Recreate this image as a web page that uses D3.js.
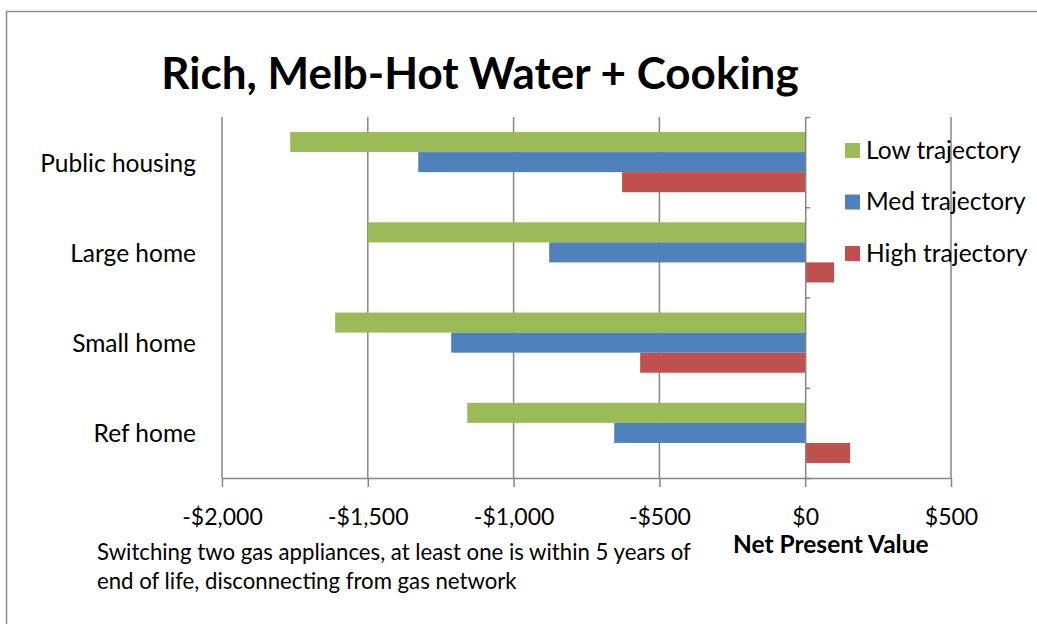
<!DOCTYPE html>
<html>
<head>
<meta charset="utf-8">
<script src="https://cdn.jsdelivr.net/npm/d3@7"></script>
<style>
  body { margin: 0; background: #fff; }
  text { font-family: Lato, "Open Sans", sans-serif; fill: #000; }
</style>
</head>
<body>
<svg width="1037" height="624"></svg>
<script>
// chart data
let categories = ["Public housing", "Large home", "Small home", "Ref home"];
let seriesNames = ["Low trajectory", "Med trajectory", "High trajectory"];
let lowValues = [-1766, -1500, -1612, -1159];
let medValues = [-1327, -878, -1214, -655];
let highValues = [-628, 99, -566, 154];
let tickValues = [-2000, -1500, -1000, -500, 0, 500];
let colors = ["#9BBB59", "#4F81BD", "#C0504D"];

let rows = [];
categories.forEach(function (c, i) {
    rows.push({cat: c, series: seriesNames[0], value: lowValues[i]});
    rows.push({cat: c, series: seriesNames[1], value: medValues[i]});
    rows.push({cat: c, series: seriesNames[2], value: highValues[i]});
});

let svg = d3.select("svg");
let plotLeft = 222, plotRight = 951, plotTop = 117, plotBottom = 478;

// outer frame
svg.append("rect")
    .attr("x", 6.5).attr("y", 11.5)
    .attr("width", 1100).attr("height", 700)
    .attr("fill", "none").attr("stroke", "#8c8c8c").attr("stroke-width", 1.5);

let x = d3.scaleLinear().domain([tickValues[0], tickValues[tickValues.length - 1]]).range([plotLeft, plotRight]);
let y = d3.scaleBand().domain(categories).range([plotTop, plotBottom]).padding(0);
let ys = d3.scaleBand().domain(seriesNames)
    .range([y.bandwidth() / 6, y.bandwidth() * 5 / 6]).padding(0);
let color = d3.scaleOrdinal().domain(seriesNames).range(colors);

// gridlines
svg.append("g").selectAll("line")
    .data(tickValues.filter(function (d) { return d !== 0; }))
    .enter().append("line")
    .attr("x1", function (d) { return x(d); })
    .attr("x2", function (d) { return x(d); })
    .attr("y1", plotTop).attr("y2", plotBottom)
    .attr("stroke", "#868686").attr("stroke-width", 1.5);

// bars
svg.append("g").selectAll("rect")
    .data(rows)
    .enter().append("rect")
    .attr("x", function (d) { return x(Math.min(0, d.value)); })
    .attr("y", function (d) { return y(d.cat) + ys(d.series); })
    .attr("width", function (d) { return Math.abs(x(d.value) - x(0)); })
    .attr("height", ys.bandwidth())
    .attr("fill", function (d) { return color(d.series); });

// x axis
let xAxis = svg.append("g")
    .attr("transform", "translate(0," + plotBottom + ")")
    .call(d3.axisBottom(x).tickValues(tickValues).tickSize(9).tickSizeOuter(0)
        .tickFormat(function (d) { return (d < 0 ? "-$" : "$") + d3.format(",")(Math.abs(d)); }));
xAxis.select(".domain").attr("stroke", "#868686").attr("stroke-width", 1.5);
xAxis.selectAll(".tick line").attr("stroke", "#868686").attr("stroke-width", 1.5);
xAxis.selectAll(".tick text")
    .attr("y", 39).attr("dy", "0.35em")
    .style("font-size", "23px").style("font-family", "Lato, 'Open Sans', sans-serif");

// y axis at zero
let yAxis = svg.append("g")
    .attr("transform", "translate(" + x(0) + ",0)")
    .call(d3.axisRight(d3.scaleLinear().domain([0, 4]).range([plotTop, plotBottom])).ticks(4).tickSize(5).tickSizeOuter(0).tickFormat(""));
yAxis.select(".domain").attr("stroke", "#868686").attr("stroke-width", 1.5);
yAxis.selectAll(".tick line").attr("stroke", "#868686").attr("stroke-width", 1.5);

// category labels
svg.append("g").selectAll("text")
    .data(categories)
    .enter().append("text")
    .attr("x", 196)
    .attr("y", function (d) { return y(d) + y.bandwidth() / 2 + 1; })
    .attr("dy", "0.35em")
    .attr("text-anchor", "end")
    .style("font-size", "24.5px")
    .text(function (d) { return d; });

// legend
let legend = svg.append("g").selectAll("g")
    .data(seriesNames)
    .enter().append("g")
    .attr("transform", function (d, i) { return "translate(845," + (150 + i * 51.5) + ")"; });
legend.append("rect")
    .attr("x", 0).attr("y", -7).attr("width", 15).attr("height", 15)
    .attr("fill", function (d) { return color(d); });
legend.append("text")
    .attr("x", 21).attr("dy", "0.35em")
    .style("font-size", "24.5px")
    .text(function (d) { return d; });

// title
svg.append("text")
    .attr("x", 480).attr("y", 89)
    .attr("text-anchor", "middle")
    .style("font-size", "44px").style("font-weight", "bold")
    .text("Rich, Melb-Hot Water + Cooking");

// axis title
svg.append("text")
    .attr("x", 733).attr("y", 553)
    .style("font-size", "24.5px").style("font-weight", "bold")
    .text("Net Present Value");

// note
svg.append("text")
    .attr("x", 97).attr("y", 560)
    .style("font-size", "22.2px")
    .text("Switching two gas appliances, at least one is within 5 years of");
svg.append("text")
    .attr("x", 97).attr("y", 589)
    .style("font-size", "22.2px")
    .text("end of life, disconnecting from gas network");
</script>
</body>
</html>
